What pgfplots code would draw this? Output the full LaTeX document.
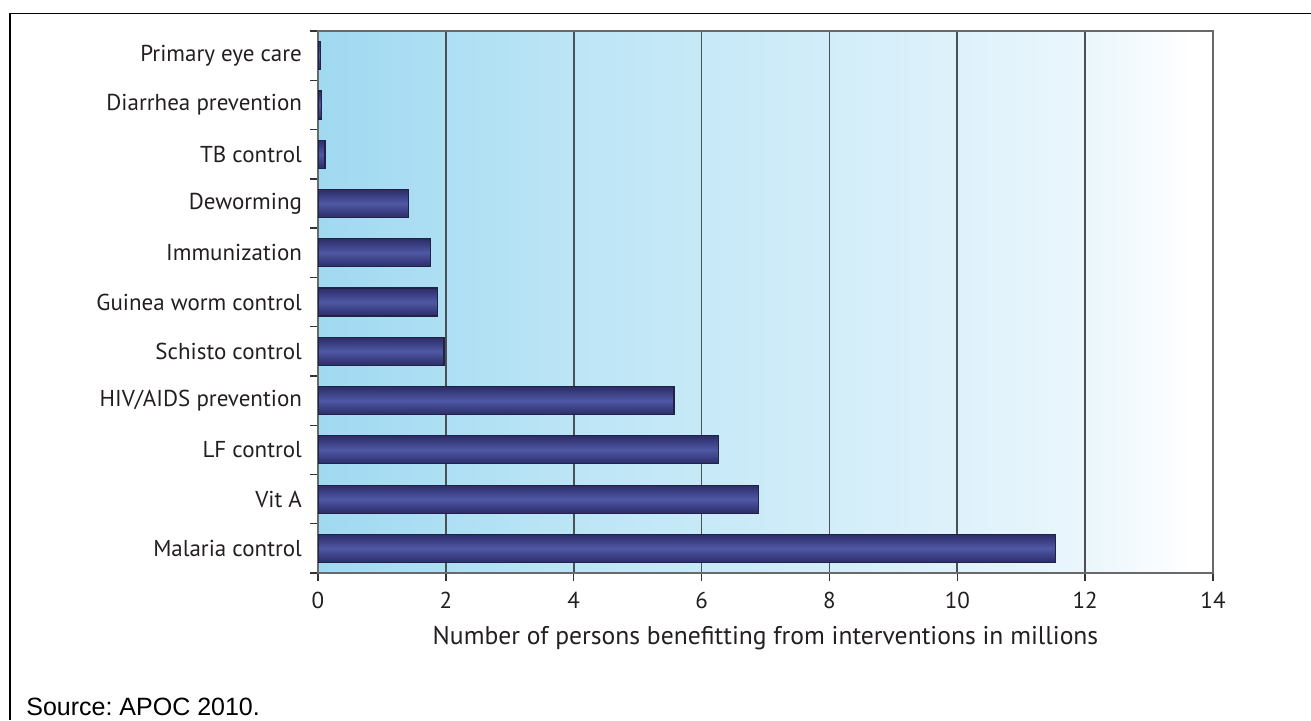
\documentclass[border=0pt]{standalone}
\usepackage{pgfplots}
\pgfplotsset{compat=1.18}
\usepackage{fontspec}
\setmainfont{PT Sans}
\newfontfamily\arial{Liberation Sans}
\definecolor{txt}{RGB}{35,31,32}
\definecolor{bg0}{RGB}{160,217,241}
\definecolor{bg1}{RGB}{188,229,246}
\definecolor{bg2}{RGB}{210,237,249}
\definecolor{bg3}{RGB}{234,246,252}
\definecolor{bardark}{RGB}{44,44,104}
\definecolor{barmid}{RGB}{78,88,164}
\definecolor{barline}{RGB}{34,34,68}
\definecolor{gridc}{RGB}{75,80,85}
\definecolor{axisc}{RGB}{105,105,105}
\pgfdeclarehorizontalshading{bgshade}{100bp}{color(0bp)=(bg0); color(25bp)=(bg0); color(39.29bp)=(bg1); color(53.57bp)=(bg2); color(67.86bp)=(bg3); color(73.9bp)=(white); color(100bp)=(white)}
\pgfplotsset{onebar/.style={xbar, bar width=14pt, bar shift=0pt, forget plot, draw=barline, line width=0.6pt, top color=bardark, bottom color=bardark, middle color=barmid}}
\frenchspacing
\begin{document}
\begin{tikzpicture}
\useasboundingbox (0,0) rectangle (655.5pt,-360pt);
\draw[line width=0.9pt, black] (5pt,-360pt) -- (5pt,-6.75pt) -- (655.5pt,-6.75pt);
\node[anchor=base west, font=\arial\fontsize{12.5}{14}\selectfont, inner sep=0pt] at (13pt,-357.5pt) {Source: APOC 2010.};
\begin{axis}[
  scale only axis, width=447.5pt, height=271pt,
  anchor=south west, at={(159pt,-286.5pt)},
  xmin=0, xmax=14, ymin=-0.5, ymax=10.5,
  xtick={0,2,...,14},
  ytick={0,...,10},
  yticklabels={Malaria control, Vit A, LF control, HIV/AIDS prevention, Schisto control, Guinea worm control, Immunization, Deworming, TB control, Diarrhea prevention, Primary eye care},
  minor ytick={-0.5,0.5,...,10.5},
  tick align=outside, tick pos=left,
  major tick length=4pt, minor tick length=4pt,
  major y tick style={draw=none},
  tick style={color=black!80, line width=0.7pt},
  axis line style={color=axisc, line width=0.8pt},
  xmajorgrids, major x grid style={color=gridc, line width=0.8pt},
  axis background/.style={shade, shading=bgshade},
  /pgf/number format/assume math mode=true,
  ticklabel style={font=\fontsize{11.5}{13}\selectfont, text=txt},
  yticklabel style={xshift=-0.5pt},
  xticklabel style={yshift=-2pt},
  xlabel={Number of persons benefitting from interventions in millions},
  xlabel style={font=\fontsize{12.8}{14}\selectfont, text=txt, yshift=-2pt},
]
\addplot[onebar] coordinates {(11.54,0)};
\addplot[onebar] coordinates {(6.89,1)};
\addplot[onebar] coordinates {(6.26,2)};
\addplot[onebar] coordinates {(5.57,3)};
\addplot[onebar] coordinates {(1.97,4)};
\addplot[onebar] coordinates {(1.87,5)};
\addplot[onebar] coordinates {(1.76,6)};
\addplot[onebar] coordinates {(1.42,7)};
\addplot[onebar] coordinates {(0.11,8)};
\addplot[onebar] coordinates {(0.06,9)};
\addplot[onebar] coordinates {(0.04,10)};
\end{axis}
\end{tikzpicture}
\end{document}
